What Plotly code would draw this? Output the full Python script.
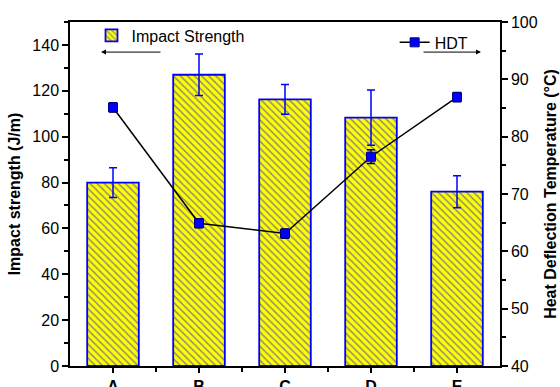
import plotly.graph_objects as go

categories = ["A", "B", "C", "D", "E"]
impact = [80, 127, 116.3, 108.3, 76]
impact_err = [6.5, 9, 6.5, 12, 7]
hdt = [85.1, 64.9, 63.1, 76.5, 86.9]
hdt_err = [0.8, 0.8, 0.8, 1.2, 0.8]

xpos = list(range(len(categories)))
FONT = "Liberation Sans, Arial, sans-serif"

fig = go.Figure()
fig.add_trace(go.Bar(
    x=xpos, y=impact, width=0.6, name="Impact Strength",
    marker=dict(color="#FFFF00",
                line=dict(color="#0000FF", width=1.8),
                pattern=dict(shape="\\", fgcolor="#2020E0", bgcolor="#FFFF00",
                             size=5, solidity=0.3, fillmode="overlay")),
    error_y=dict(type="data", array=impact_err, color="#0000FF", thickness=1.5, width=4),
    legend="legend",
))
fig.add_trace(go.Scatter(
    x=xpos, y=hdt, name="HDT", yaxis="y2", mode="lines+markers",
    line=dict(color="black", width=1.5),
    marker=dict(symbol="square", size=9, color="#0000FF", line=dict(color="#000080", width=1)),
    error_y=dict(type="data", array=hdt_err, color="#000040", thickness=1.5, width=4),
    legend="legend2",
))

axis_common = dict(showline=True, linecolor="black", linewidth=1.5, ticks="outside",
                   tickcolor="black", tickwidth=1.5, showgrid=False, zeroline=False,
                   automargin=False,
                   tickfont=dict(family=FONT, size=16, color="black"))

fig.update_layout(
    width=560, height=387,
    margin=dict(l=70, r=60, t=22, b=21),
    paper_bgcolor="white", plot_bgcolor="white",
    font=dict(family=FONT, size=16, color="black"),
    xaxis=dict(axis_common, range=[-0.5, 4.5], tickvals=xpos, ticktext=categories,
               ticklen=5, mirror=True,
               tickfont=dict(family=FONT, size=16, color="black", weight="bold"),
               minor=dict(tickvals=[0.5, 1.5, 2.5, 3.5], ticklen=4, ticks="outside",
                          tickcolor="black", tickwidth=1.5)),
    yaxis=dict(axis_common, range=[0, 150], tickvals=[0, 20, 40, 60, 80, 100, 120, 140],
               ticklen=6,
               minor=dict(dtick=10, ticklen=4, ticks="outside", tickcolor="black", tickwidth=1.5),
               title=dict(text="Impact strength (J/m)", standoff=8,
                          font=dict(family=FONT, size=16, color="black", weight="bold"))),
    yaxis2=dict(axis_common, overlaying="y", side="right", range=[40, 100], dtick=10,
                ticklen=6,
                minor=dict(dtick=5, ticklen=4, ticks="outside", tickcolor="black", tickwidth=1.5),
                title=dict(text="Heat Deflection Temperature (°C)", standoff=8,
                           font=dict(family=FONT, size=16, color="black", weight="bold"))),
    legend=dict(x=0.05, y=1.01, xanchor="left", yanchor="top", bgcolor="rgba(0,0,0,0)",
                font=dict(family=FONT, size=16, color="black")),
    legend2=dict(x=0.755, y=0.99, xanchor="left", yanchor="top", bgcolor="rgba(0,0,0,0)",
                 font=dict(family=FONT, size=16, color="black")),
    showlegend=True,
    bargap=0.4,
)

fig.add_annotation(xref="paper", yref="paper", x=(101 - 70) / 430, y=1 - (52 - 22) / 343,
                   ax=61, ay=0, showarrow=True, arrowhead=2, arrowsize=1, arrowwidth=1,
                   arrowcolor="black", text="")
fig.add_annotation(xref="paper", yref="paper", x=(481 - 70) / 430, y=1 - (52 - 22) / 343,
                   ax=-59, ay=0, showarrow=True, arrowhead=2, arrowsize=1, arrowwidth=1,
                   arrowcolor="black", text="")

fig.write_html("out.html")
